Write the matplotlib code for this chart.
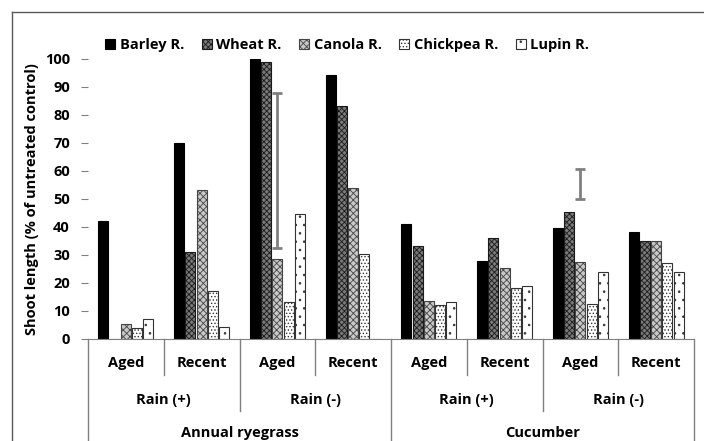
import numpy as np
import matplotlib
matplotlib.use('Agg')
import matplotlib.pyplot as plt
from matplotlib.lines import Line2D

plt.rcParams['font.family'] = ['Open Sans', 'DejaVu Sans']
plt.rcParams['font.weight'] = 'bold'
plt.rcParams['hatch.linewidth'] = 0.6

# data (% of untreated control)
series = ["Barley R.", "Wheat R.", "Canola R.", "Chickpea R.", "Lupin R."]
barley = [42, 70, 100, 94.3, 40.9, 27.7, 39.5, 38.3]
wheat = [0, 31, 99, 83.2, 33.2, 36, 45.2, 35]
canola = [5.3, 53.3, 28.7, 54, 13.5, 25.2, 27.6, 35]
chickpea = [4, 17.2, 13.1, 30.5, 12.1, 18.3, 12.4, 27.3]
lupin = [7.3, 4.4, 44.6, 0, 13.2, 18.8, 23.8, 24]

ages = ["Aged", "Recent"] * 4
rains = ["Rain (+)", "Rain (-)", "Rain (+)", "Rain (-)"]
species = ["Annual ryegrass", "Cucumber"]

# LSD bars
err_group = [2, 6]
err_mid = [60.25, 55.25]
err_half = [27.75, 5.35]

styles = [
    dict(color='black', edgecolor='black'),
    dict(color='#7a7a7a', edgecolor='#1a1a1a', hatch='xxxxxx'),
    dict(color='#c8c8c8', edgecolor='#444444', hatch='xxxxx'),
    dict(color='white', edgecolor='#333333', hatch='.....'),
    dict(color='white', edgecolor='#333333', hatch='..'),
]

fig = plt.figure(figsize=(7.04, 4.41), dpi=100)
ax = fig.add_axes([88/704, 1-339/441, 606/704, 280/441])

x = np.arange(8) + 0.5
step = 0.149
width = 0.132
for k, vals in enumerate([barley, wheat, canola, chickpea, lupin]):
    ax.bar(x + (k-2)*step, vals, width, label=series[k], linewidth=0.8, **styles[k])

ax.errorbar(x[err_group], err_mid, yerr=err_half, fmt='none', ecolor='#808080',
            elinewidth=2, capsize=3.5, capthick=2)

ax.set_xlim(0, 8)
ax.set_ylim(0, 100)
ax.set_yticks(range(0, 101, 10))
ax.set_xticks([])
for s in ['top', 'right', 'left']:
    ax.spines[s].set_visible(False)
ax.spines['bottom'].set_color('#808080')
ax.tick_params(axis='y', length=5, color='#808080', labelsize=10.5, pad=8)
ax.set_ylabel("Shoot length (% of untreated control)", fontsize=10.5,
              fontweight='bold', labelpad=4)

# multi level category axis
tr = ax.get_xaxis_transform()
for i in range(9):
    if i % 4 == 0:
        y1 = -0.45
    elif i % 2 == 0:
        y1 = -0.257
    else:
        y1 = -0.129
    ax.add_line(Line2D([i, i], [0, y1], transform=tr, color='#808080', lw=1, clip_on=False))
for i in range(8):
    ax.text(i + 0.5, -0.086, ages[i], transform=tr, ha='center', va='center', fontsize=10.5)
for i in range(4):
    ax.text(2*i + 1, -0.218, rains[i], transform=tr, ha='center', va='center', fontsize=10.5)
for i in range(2):
    ax.text(4*i + 2, -0.335, species[i], transform=tr, ha='center', va='center', fontsize=10.5)

fig.legend(loc='center', bbox_to_anchor=(0.493, 1-45/441), ncol=5, frameon=False,
           fontsize=10.5, handlelength=0.7, handleheight=0.7, handletextpad=0.3,
           columnspacing=1.2, borderaxespad=0)

# chart frame
fig.add_artist(Line2D([12/704, 12/704], [0, 1-12/441], color='#595959', lw=1))
fig.add_artist(Line2D([12/704, 1], [1-12/441, 1-12/441], color='#595959', lw=1))

fig.savefig('out.png', dpi=100)
